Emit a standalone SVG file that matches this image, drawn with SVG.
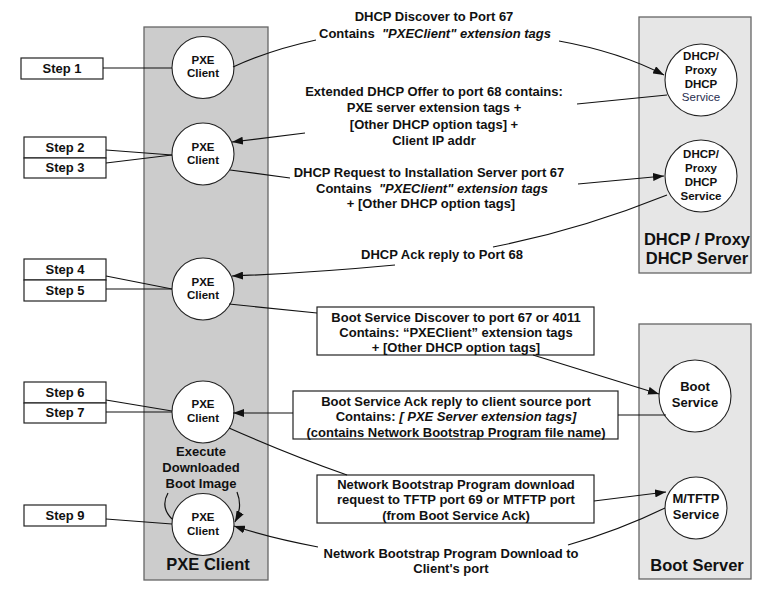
<svg xmlns="http://www.w3.org/2000/svg" width="773" height="612" viewBox="0 0 773 612">
<style>
text{font-family:"Liberation Sans",Arial,sans-serif;font-weight:bold;fill:#111;text-anchor:middle}
.m{font-size:13px}
.s{font-size:13px}
.c{font-size:11.5px}
.big{font-size:16.5px}
.col{stroke:#666;stroke-width:1.3}
.box{fill:#fff;stroke:#222;stroke-width:1.2}
.node{fill:#fff;stroke:#222;stroke-width:1.1}
.ln{fill:none;stroke:#111;stroke-width:1.2}
.i{font-style:italic}
</style>
<defs>
<marker id="ah" markerUnits="userSpaceOnUse" markerWidth="11" markerHeight="8" refX="11" refY="4" orient="auto">
<path d="M0,0 L11,4 L0,8 z" fill="#111"/>
</marker>
</defs>

<g id="pxe-client-column">
<rect class="col" x="144" y="27" width="124" height="553" fill="#cccccc"/>
<text class="big" x="208" y="570">PXE Client</text>
</g>
<g id="dhcp-server-column">
<rect class="col" x="639" y="17" width="112" height="256" fill="#e6e6e6"/>
<text class="big" x="697" y="245">DHCP / Proxy</text>
<text class="big" x="697" y="264">DHCP Server</text>
</g>
<g id="boot-server-column">
<rect class="col" x="639" y="324" width="112" height="255" fill="#e6e6e6"/>
<text class="big" x="697" y="571">Boot Server</text>
</g>

<g id="step1"><rect class="box" x="21" y="58" width="82" height="21"/><text class="s" x="62" y="73">Step 1</text></g>
<g id="step2"><rect class="box" x="24" y="137" width="82" height="21"/><text class="s" x="65" y="152">Step 2</text></g>
<g id="step3"><rect class="box" x="24" y="158" width="82" height="20"/><text class="s" x="65" y="172">Step 3</text></g>
<g id="step4"><rect class="box" x="24" y="259" width="82" height="21"/><text class="s" x="65" y="274">Step 4</text></g>
<g id="step5"><rect class="box" x="24" y="280" width="82" height="21"/><text class="s" x="65" y="295">Step 5</text></g>
<g id="step6"><rect class="box" x="24" y="382" width="82" height="21"/><text class="s" x="65" y="397">Step 6</text></g>
<g id="step7"><rect class="box" x="24" y="403" width="82" height="20"/><text class="s" x="65" y="417">Step 7</text></g>
<g id="step9"><rect class="box" x="24" y="505" width="82" height="21"/><text class="s" x="65" y="520">Step 9</text></g>

<g id="pxe1"><circle class="node" cx="203" cy="67.5" r="31"/><text class="c" x="203" y="64">PXE</text><text class="c" x="203" y="77">Client</text></g>
<g id="pxe2"><circle class="node" cx="203" cy="154" r="31"/><text class="c" x="203" y="151">PXE</text><text class="c" x="203" y="164">Client</text></g>
<g id="pxe3"><circle class="node" cx="203" cy="289" r="31"/><text class="c" x="203" y="286">PXE</text><text class="c" x="203" y="299">Client</text></g>
<g id="pxe4"><circle class="node" cx="203" cy="412" r="31"/><text class="c" x="203" y="408">PXE</text><text class="c" x="203" y="422">Client</text></g>
<g id="pxe5"><circle class="node" cx="203" cy="524.5" r="31"/><text class="c" x="203" y="521">PXE</text><text class="c" x="203" y="535">Client</text></g>

<g id="dhcp1"><circle class="node" cx="701" cy="80" r="36"/>
<text class="c" x="701" y="60">DHCP/</text><text class="c" x="701" y="74">Proxy</text><text class="c" x="701" y="88">DHCP</text>
<text class="c" x="701" y="101" style="font-weight:normal;fill:#1f2d4f">Service</text></g>
<g id="dhcp2"><circle class="node" cx="701" cy="176" r="36"/>
<text class="c" x="701" y="158">DHCP/</text><text class="c" x="701" y="172">Proxy</text><text class="c" x="701" y="186">DHCP</text><text class="c" x="701" y="200">Service</text></g>
<g id="boot-service"><circle class="node" cx="695" cy="396" r="36"/><text class="m" x="695" y="391">Boot</text><text class="m" x="695" y="407">Service</text></g>
<g id="mtftp-service"><circle class="node" cx="696" cy="508" r="31"/><text class="m" x="696" y="503">M/TFTP</text><text class="m" x="696" y="519">Service</text></g>

<g id="execute-label">
<text class="m" x="201" y="456">Execute</text>
<text class="m" x="201" y="472">Downloaded</text>
<text class="m" x="201" y="488">Boot Image</text>
</g>

<g id="msg-boxes">
<g id="box-boot-discover"><rect class="box" x="317" y="307" width="277" height="48"/>
<text class="m" x="456" y="322">Boot Service Discover to port 67 or 4011</text>
<text class="m" x="456" y="337">Contains: “PXEClient” extension tags</text>
<text class="m" x="456" y="352">+ [Other DHCP option tags]</text></g>
<g id="box-boot-ack"><rect class="box" x="293" y="391" width="325" height="48"/>
<text class="m" x="456" y="406">Boot Service Ack reply to client source port</text>
<text class="m" x="456" y="421">Contains: <tspan class="i">[ PXE Server extension tags]</tspan></text>
<text class="m" x="456" y="437">(contains Network Bootstrap Program file name)</text></g>
<g id="box-nbp-request"><rect class="box" x="317" y="475" width="277" height="48"/>
<text class="m" x="456" y="489">Network Bootstrap Program download</text>
<text class="m" x="456" y="504">request to TFTP port 69 or MTFTP port</text>
<text class="m" x="456" y="520">(from Boot Service Ack)</text></g>
</g>

<g id="labels">
<text class="m" x="434" y="21">DHCP Discover to Port 67</text>
<text class="m" x="435" y="38">Contains&#160; <tspan class="i">"PXEClient" extension tags</tspan></text>
<text class="m" x="434" y="96">Extended DHCP Offer to port 68 contains:</text>
<text class="m" x="434" y="112">PXE server extension tags +</text>
<text class="m" x="434" y="129">[Other DHCP option tags] +</text>
<text class="m" x="434" y="145">Client IP addr</text>
<text class="m" x="429" y="177">DHCP Request to Installation Server port 67</text>
<text class="m" x="432" y="193">Contains&#160; <tspan class="i">"PXEClient" extension tags</tspan></text>
<text class="m" x="431" y="208">+ [Other DHCP option tags]</text>
<text class="m" x="442" y="259">DHCP Ack reply to Port 68</text>
<text class="m" x="451" y="558">Network Bootstrap Program Download to</text>
<text class="m" x="451" y="573">Client's port</text>
</g>

<g id="connectors">
<line class="ln" x1="103" y1="68" x2="172" y2="68"/>
<line class="ln" x1="106" y1="150" x2="172" y2="155"/>
<line class="ln" x1="106" y1="163" x2="172" y2="155"/>
<line class="ln" x1="106" y1="276" x2="172" y2="289"/>
<line class="ln" x1="106" y1="289" x2="172" y2="289"/>
<line class="ln" x1="106" y1="400" x2="172" y2="411"/>
<line class="ln" x1="106" y1="412" x2="172" y2="412"/>
<line class="ln" x1="106" y1="519" x2="172" y2="524"/>

<path class="ln" d="M233 67 Q270 50 316 40"/>
<path class="ln" d="M559 41 Q620 52 664 75" marker-end="url(#ah)"/>
<path class="ln" d="M667 95 L577 104"/>
<path class="ln" d="M305 133 L232 142" marker-end="url(#ah)"/>
<path class="ln" d="M230 170 L290 178"/>
<path class="ln" d="M578 184 L664 176" marker-end="url(#ah)"/>
<path class="ln" d="M667 195 Q580 230 493 247"/>
<path class="ln" d="M395 265 Q310 273 232 276" marker-end="url(#ah)"/>
<path class="ln" d="M229 304 L317 313"/>
<path class="ln" d="M533 355 L659 394" marker-end="url(#ah)"/>
<path class="ln" d="M666 415 L618 415"/>
<path class="ln" d="M293 413 L233 413" marker-end="url(#ah)"/>
<path class="ln" d="M229 428 Q290 455 347 475"/>
<path class="ln" d="M594 501 L666 492" marker-end="url(#ah)"/>
<path class="ln" d="M665 508 Q620 530 568 545"/>
<path class="ln" d="M318 547 Q270 538 234 526" marker-end="url(#ah)"/>
<path class="ln" d="M168 493 Q160 507 172 519"/>
<path class="ln" d="M237 492 Q243 507 235 522" marker-end="url(#ah)"/>
</g>
</svg>
